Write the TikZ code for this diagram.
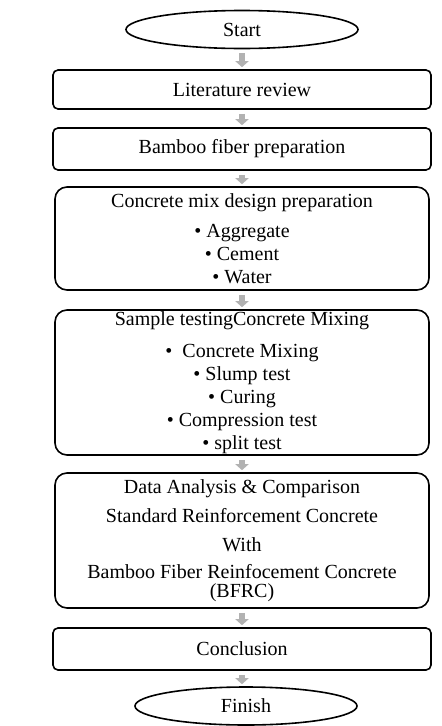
\documentclass[tikz,border=0pt]{standalone}
\usepackage{fontspec}
\setmainfont{Liberation Serif}
\usepackage{tikz}
\usetikzlibrary{positioning, arrows.meta, shapes.geometric}

\begin{document}
\begin{tikzpicture}[x=1pt, y=1pt,
    terminal/.style={ellipse, draw, line width=1.6pt, minimum width=232pt, minimum height=38pt, inner sep=0pt, font=\fontsize{20}{23}\selectfont},
    stage/.style={rectangle, draw, line width=1.6pt, rounded corners=5pt, minimum width=378pt, inner sep=0pt, align=center, font=\fontsize{20}{23}\selectfont},
    bigstage/.style={stage, rounded corners=12pt, minimum width=374pt},
    arrow/.style={-{Triangle[width=13pt, length=6pt]}, line width=6pt, draw=gray!60, shorten <=4pt, shorten >=2pt}
]
\useasboundingbox (0,0) rectangle (442,-726);

\node[terminal] (start) at (242,-29.5) {Start};
\node[stage, minimum height=39pt] (lit) at (242,-89.5) {Literature review};
\node[stage, minimum height=42pt] (bamboo) at (242,-149) {Bamboo fiber preparation};
\node[bigstage, minimum height=103pt] (mix) at (242,-238.5) {Concrete mix design preparation\\[7pt]
    • Aggregate\\ • Cement\\ • Water};
\node[bigstage, minimum height=145pt] (sample) at (242,-382.5) {Sample testingConcrete Mixing\\[9pt]
    •~~Concrete Mixing\\ • Slump test\\ • Curing\\ • Compression test\\ • split test};
\node[bigstage, minimum height=135pt] (data) at (242,-540.5) {Data Analysis \& Comparison\\[6pt]
    Standard Reinforcement Concrete\\[6pt] With\\[4pt] Bamboo Fiber Reinfocement Concrete\\[-4pt] (BFRC)};
\node[stage, minimum height=42pt] (concl) at (242,-649) {Conclusion};
\node[terminal, minimum width=222pt] (finish) at (246,-706) {Finish};

\draw[arrow] (start) -- (lit);
\draw[arrow] (lit) -- (bamboo);
\draw[arrow] (bamboo) -- (mix);
\draw[arrow] (mix) -- (sample);
\draw[arrow] (sample) -- (data);
\draw[arrow] (data) -- (concl);
\draw[arrow] (concl.south) -- (concl.south |- finish.north);

\end{tikzpicture}
\end{document}
